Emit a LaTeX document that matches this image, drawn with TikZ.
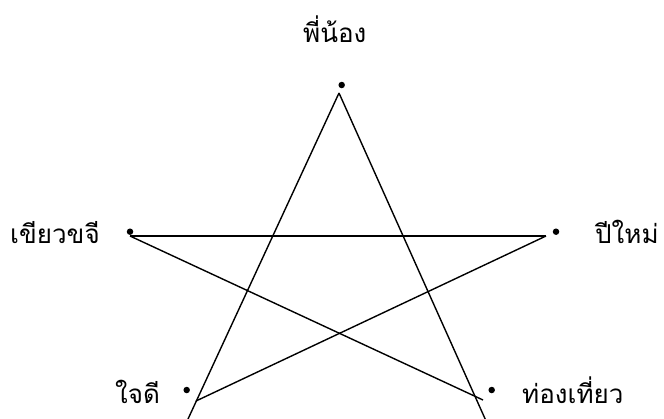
\documentclass[tikz,border=0pt]{standalone}
\usepackage{fontspec}
\newfontfamily\thaifont[Script=Thai]{Loma}
\begin{document}
\begin{tikzpicture}[x=1pt,y=-1pt,
  dot/.style={circle,fill=black,inner sep=0pt,minimum size=6.5pt},
  lbl/.style={inner sep=0pt,font=\thaifont\fontsize{26}{30}\selectfont},
  edge/.style={draw=black,line width=1.4pt}]
\useasboundingbox (0,0) rectangle (664,418);
\clip (0,0) rectangle (664,418);
% dots
\node[dot] (dtop) at (341.7,85) {};
\node[dot] (dleft) at (130,231.7) {};
\node[dot] (dright) at (556,231.7) {};
\node[dot] (dbl) at (186.7,390) {};
\node[dot] (dbr) at (491.7,390) {};
% labels
\node[lbl,anchor=base west] (ltop) at (303,42) {พี่น้อง};
\node[lbl,anchor=base west] (lleft) at (10,243) {เขียวขจี};
\node[lbl,anchor=base west] (lright) at (595,243) {ปีใหม่};
\node[lbl,anchor=base west] (lbl) at (115,403) {ใจดี};
\node[lbl,anchor=base west] (lbr) at (522,403) {ท่องเที่ยว};
% line end points
\coordinate (apex) at (339,93);
\coordinate (legL) at (182,432);
\coordinate (legR) at (491,432);
\coordinate (hL) at (130,236);
\coordinate (hR) at (546,236);
\coordinate (dgL) at (483,400);
\coordinate (dgR) at (196,401);
\draw[edge] (apex) -- (legL);
\draw[edge] (apex) -- (legR);
\draw[edge] (hL) -- (hR);
\draw[edge] (hL) -- (dgL);
\draw[edge] (hR) -- (dgR);
\end{tikzpicture}
\end{document}
